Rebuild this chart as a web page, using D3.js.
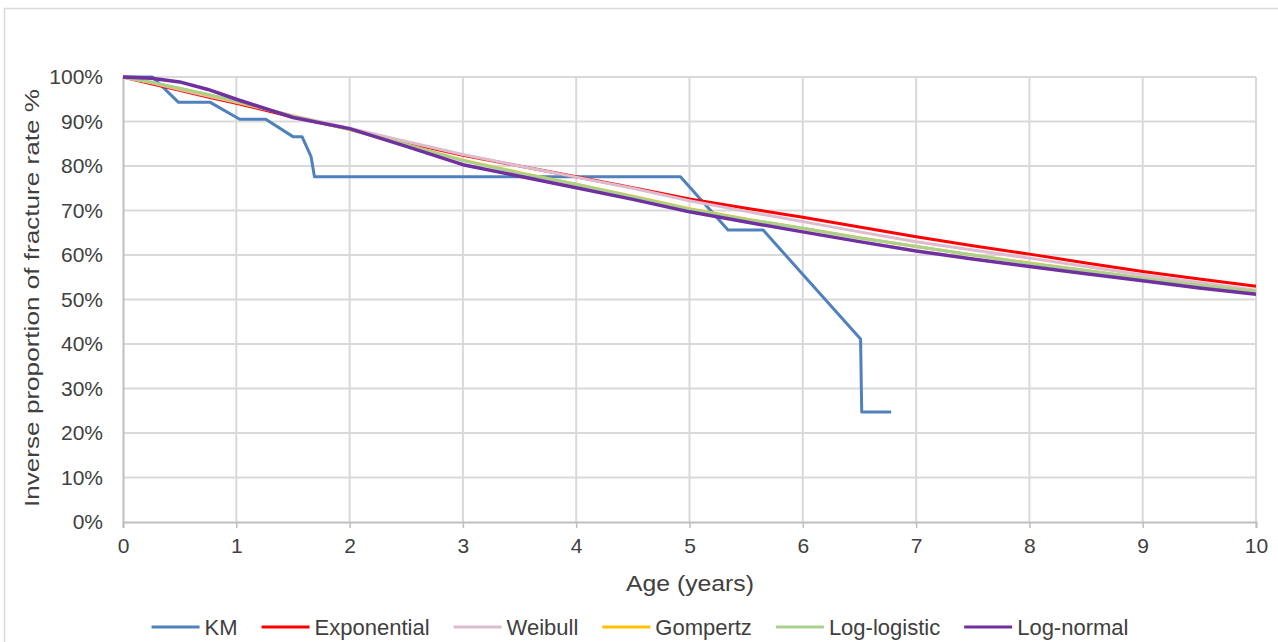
<!DOCTYPE html>
<html lang="en">
<head>
    <meta charset="utf-8">
    <style>
        body { margin: 0; background: #ffffff; }
        svg text { font-family: "Liberation Sans", Arial, sans-serif; fill: #404040; }
    </style>
    <script src="https://d3js.org/d3.v7.min.js"></script>
</head>
<body>
<script type="text/javascript">

    // KM curve
    var kmTime  = [0, 0.26, 0.49, 0.77, 1.03, 1.26, 1.50, 1.58, 1.66, 1.69, 4.92, 5.34, 5.65, 6.51, 6.52, 6.78];
    var kmValue = [100, 100, 94.3, 94.3, 90.5, 90.5, 86.6, 86.6, 82.1, 77.6, 77.6, 65.6, 65.6, 41.1, 24.7, 24.7];

    // model curves share one time grid (years)
    var modelTime   = [0, 0.25, 0.5, 0.75, 1, 1.5, 2, 2.5, 3, 3.5, 4, 4.5, 5, 5.5, 6, 6.5, 7, 7.5, 8, 8.5, 9, 9.5, 10];
    var exponential = [100, 98.5, 97.0, 95.5, 94.1, 91.0, 88.3, 85.3, 82.4, 80.0, 77.6, 75.1, 72.6, 70.5, 68.5, 66.3, 64.1, 62.1, 60.2, 58.2, 56.3, 54.6, 53.0];
    var weibull     = [100, 98.7, 97.2, 95.7, 94.3, 91.3, 88.5, 85.5, 82.6, 80.0, 77.5, 75.0, 72.2, 69.8, 67.5, 65.2, 63.0, 61.1, 59.3, 57.4, 55.5, 53.8, 52.1];
    var gompertz    = [100, 98.8, 97.4, 96.0, 94.5, 91.2, 88.2, 84.8, 81.3, 78.5, 75.9, 73.2, 70.4, 68.1, 66.0, 63.9, 61.9, 60.0, 58.2, 56.5, 54.8, 53.2, 51.8];
    var logLogistic = [100, 98.8, 97.5, 96.1, 94.6, 91.2, 88.2, 84.8, 81.2, 78.4, 75.9, 73.1, 70.3, 68.0, 66.0, 63.8, 61.9, 60.0, 58.1, 56.5, 54.8, 53.2, 51.8];
    var logNormal   = [100, 99.7, 98.9, 97.2, 95.0, 90.9, 88.4, 84.4, 80.3, 77.7, 75.1, 72.5, 69.7, 67.4, 65.2, 63.0, 60.9, 59.1, 57.4, 55.8, 54.2, 52.6, 51.2];

    var xTicks = [0, 1, 2, 3, 4, 5, 6, 7, 8, 9, 10];
    var yTicks = [0, 10, 20, 30, 40, 50, 60, 70, 80, 90, 100];

    var series = [
        { name: "KM",           color: "#4f81bd", width: 3,   t: kmTime,    v: kmValue },
        { name: "Exponential",  color: "#ff0000", width: 3,   t: modelTime, v: exponential },
        { name: "Weibull",      color: "#dcbccf", width: 3,   t: modelTime, v: weibull },
        { name: "Gompertz",     color: "#ffc000", width: 3,   t: modelTime, v: gompertz },
        { name: "Log-logistic", color: "#a9d18e", width: 3,   t: modelTime, v: logLogistic },
        { name: "Log-normal",   color: "#7030a0", width: 3.5, t: modelTime, v: logNormal }
    ];

    var W = 1278, H = 642;
    var margin = {top: 77, right: 22, bottom: 120, left: 123};

    var svg = d3.select("body").append("svg")
        .attr("width", W)
        .attr("height", H);

    // chart frame
    svg.append("rect")
        .attr("x", 4.5).attr("y", 8.5)
        .attr("width", W + 10).attr("height", H + 10)
        .attr("fill", "#ffffff")
        .attr("stroke", "#d9d9d9")
        .attr("stroke-width", 1.5);

    var x = d3.scaleLinear().domain([0, 10]).range([margin.left, W - margin.right]);
    var y = d3.scaleLinear().domain([0, 100]).range([H - margin.bottom, margin.top]);

    // grid
    var grid = svg.append("g");
    grid.selectAll(".hg").data(yTicks.slice(1)).enter().append("line")
        .attr("x1", x(0)).attr("x2", x(10))
        .attr("y1", function(d) { return y(d); })
        .attr("y2", function(d) { return y(d); })
        .attr("stroke", "#d9d9d9").attr("stroke-width", 2);
    grid.selectAll(".vg").data(xTicks.slice(1)).enter().append("line")
        .attr("x1", function(d) { return x(d); })
        .attr("x2", function(d) { return x(d); })
        .attr("y1", y(0)).attr("y2", y(100))
        .attr("stroke", "#d9d9d9").attr("stroke-width", 2);

    // axes
    var xAxis = svg.append("g")
        .attr("transform", "translate(0," + y(0) + ")")
        .call(d3.axisBottom(x).tickValues(xTicks).tickSize(6).tickPadding(10).tickFormat(d3.format("d")));
    var yAxis = svg.append("g")
        .attr("transform", "translate(" + x(0) + ",0)")
        .call(d3.axisLeft(y).tickValues(yTicks).tickSize(0).tickPadding(20).tickFormat(function(d) { return d + "%"; }));

    [xAxis, yAxis].forEach(function(a) {
        a.select(".domain").attr("stroke", "#bfbfbf").attr("stroke-width", 2);
        a.selectAll(".tick line").attr("stroke", "#bfbfbf").attr("stroke-width", 1.5);
        a.selectAll("text").style("font-size", "21px").attr("fill", "#404040");
    });

    // lines
    var line = d3.line()
        .x(function(d) { return x(d[0]); })
        .y(function(d) { return y(d[1]); });

    svg.append("g").selectAll("path")
        .data(series)
        .enter().append("path")
        .attr("d", function(s) { return line(s.t.map(function(t, i) { return [t, s.v[i]]; })); })
        .attr("fill", "none")
        .attr("stroke", function(s) { return s.color; })
        .attr("stroke-width", function(s) { return s.width; })
        .attr("stroke-linejoin", "round");

    // axis titles
    svg.append("text")
        .attr("x", 690)
        .attr("y", 591)
        .attr("text-anchor", "middle")
        .attr("textLength", 128)
        .attr("lengthAdjust", "spacingAndGlyphs")
        .style("font-size", "22px")
        .text("Age (years)");

    svg.append("text")
        .attr("transform", "translate(39,298) rotate(-90)")
        .attr("text-anchor", "middle")
        .attr("textLength", 418)
        .attr("lengthAdjust", "spacingAndGlyphs")
        .style("font-size", "21px")
        .text("Inverse proportion of fracture rate %");

    // legend
    var legend = svg.append("g");
    var lx = 0;
    series.forEach(function(s) {
        var item = legend.append("g").attr("transform", "translate(" + lx + ",0)");
        item.append("line")
            .attr("x1", 0).attr("x2", 48)
            .attr("y1", 0).attr("y2", 0)
            .attr("stroke", s.color).attr("stroke-width", 3);
        var t = item.append("text")
            .attr("x", 53).attr("y", 8)
            .style("font-size", "22px")
            .text(s.name);
        lx += 53 + t.node().getComputedTextLength() + 24;
    });
    lx -= 24;
    legend.attr("transform", "translate(" + (640 - lx / 2) + ",627)");

</script>
</body>
</html>
